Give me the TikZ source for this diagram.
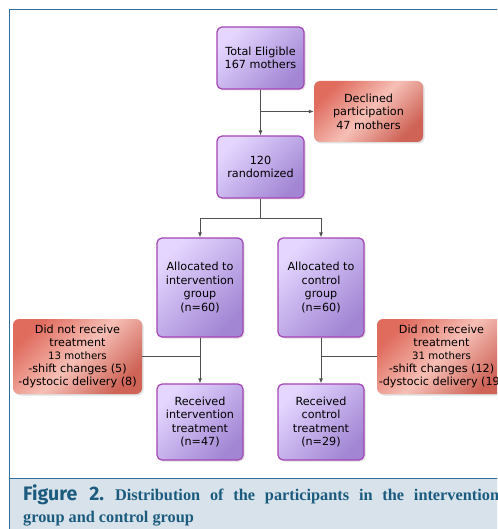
\documentclass[tikz,border=0pt]{standalone}
\usepackage{fontspec}
\setmainfont{DejaVu Sans}
\newfontfamily\capsans{Fira Sans}
\newfontfamily\capserif{Liberation Serif}
\usetikzlibrary{arrows.meta,shadows}
\definecolor{boxline}{HTML}{A545B5}
\definecolor{boxlight}{HTML}{E4D6FF}
\definecolor{boxdark}{HTML}{A286D4}
\definecolor{redlight}{HTML}{F6BFB6}
\definecolor{reddark}{HTML}{E06C5E}
\definecolor{frameblue}{HTML}{2E6E9C}
\definecolor{capfill}{HTML}{D8E2EB}
\definecolor{captext}{HTML}{1B5C7E}
\definecolor{linkgray}{HTML}{505050}
\tikzset{
  purplebox/.style={draw=boxline, line width=1.2pt, rounded corners=5pt,
    top color=boxlight, bottom color=boxdark, shading angle=45,
    align=center, inner sep=0pt,
    drop shadow={shadow xshift=1.5pt, shadow yshift=-1.5pt, opacity=0.25},
    font=\fontsize{11.2}{13.4}\selectfont},
  redbox/.style={rounded corners=6pt,
    top color=reddark, bottom color=reddark!92!black, middle color=redlight, shading angle=45,
    align=center, inner sep=0pt,
    drop shadow={shadow xshift=1.5pt, shadow yshift=-1.5pt, opacity=0.25},
    font=\fontsize{11.2}{13.4}\selectfont},
  plainlink/.style={draw=linkgray, line width=0.9pt},
  arrowlink/.style={plainlink, -{Latex[length=5pt,width=4pt]}},
}
\def\small{\fontsize{10.2}{12.5}\selectfont}

\begin{document}
\begin{tikzpicture}[x=1pt,y=-1pt]
    %%%%% START %%%%%
    \clip (0,0) rectangle (497,529);
    \fill[white] (0,0) rectangle (497,529);

    % frame and caption band
    \fill[capfill] (9,478) rectangle (510,540);
    \draw[frameblue, line width=1pt] (9,540) |- (510,10);
    \draw[frameblue, line width=1pt] (9,478) -- (510,478);

    % boxes
    \node[purplebox, minimum width=87pt, minimum height=62pt] (total) at (260.5,58) {Total Eligible\\167 mothers};
    \node[redbox, minimum width=109pt, minimum height=61pt] (declined) at (368.5,111.5) {Declined\\participation\\47 mothers};
    \node[purplebox, minimum width=87pt, minimum height=62pt] (rand) at (260.5,167) {120\\randomized};

    \node[purplebox, minimum width=86pt, minimum height=99pt] (allocI) at (200,287.5) {Allocated to\\intervention\\group\\(n=60)};
    \node[purplebox, minimum width=86pt, minimum height=99pt] (allocC) at (321,287.5) {Allocated to\\control\\group\\(n=60)};

    \node[redbox, minimum width=129pt, minimum height=75pt] (notI) at (77.5,356.5) {Did not receive\\treatment\\[-1pt]\small 13 mothers\\-shift changes (5)\\-dystocic delivery (8)};
    \node[redbox, minimum width=129pt, minimum height=75pt] (notC) at (441.5,356.5) {Did not receive\\treatment\\[-1pt]\small 31 mothers\\-shift changes (12)\\-dystocic delivery (19)};

    \node[purplebox, minimum width=86pt, minimum height=76pt] (recI) at (200,422) {Received\\intervention\\treatment\\(n=47)};
    \node[purplebox, minimum width=86pt, minimum height=76pt] (recC) at (321,422) {Received\\control\\treatment\\(n=29)};

    % connectors
    \draw[arrowlink] (total) -- (rand);
    \coordinate (split) at (total.south |- declined.west);
    \draw[arrowlink] (split) -- (declined.west);

    \coordinate (fork) at (260.5,218);
    \draw[plainlink] (rand) -- (fork);
    \draw[arrowlink] (fork) -| (allocI);
    \draw[arrowlink] (fork) -| (allocC);

    \draw[arrowlink] (allocI) -- (recI);
    \draw[arrowlink] (allocC) -- (recC);
    \draw[plainlink] (notI.east) -- (notI.east -| allocI.south);
    \draw[plainlink] (notC.west) -- (notC.west -| allocC.south);

    % caption
    \node[anchor=base west, inner sep=0pt, text=captext] (capone) at (23,500)
      {{\capsans\bfseries\fontsize{19.5}{22}\selectfont Figure\hspace{12pt}2.}\hspace{11pt}\makebox[384pt][s]{\capserif\bfseries\fontsize{16.3}{20}\selectfont Distribution of the participants in the intervention}};
    \node[anchor=base west, inner sep=0pt, text=captext, font=\capserif\bfseries\fontsize{16.3}{20}\selectfont] (captwo) at (23,522)
      {group and control group};

    %%%%% END %%%%%
\end{tikzpicture}
\end{document}
